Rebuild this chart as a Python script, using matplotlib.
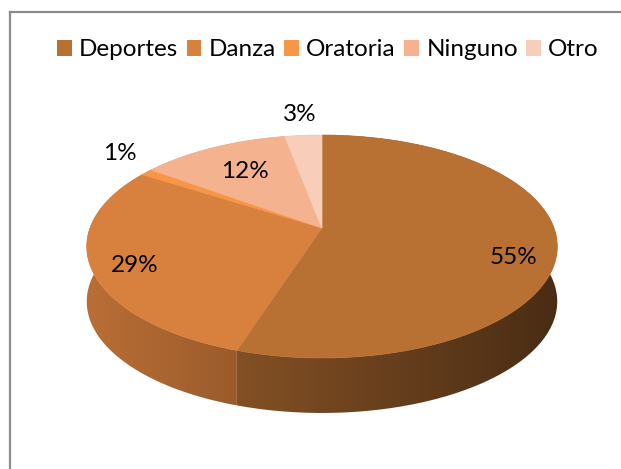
import matplotlib.pyplot as plt
import numpy as np
from matplotlib.patches import Polygon, Rectangle
from matplotlib.lines import Line2D

# data
labels = ["Deportes", "Danza", "Oratoria", "Ninguno", "Otro"]
values = [55, 29, 1, 12, 3]
colors = ["#B87033", "#D8803E", "#F79646", "#F4B38E", "#F8CDB9"]
label_r = [0.82, 0.82, 1.17, 0.68, 1.25]
label_dy = [15, 6, -10, 0, -2]

# pie geometry in pixels (3d look with a bit of perspective)
cx, cy = 322, 228
A, B = 232, 108.4
p = 0.166
depth = 55


def proj(theta, r=1.0):
    u = r * np.sin(theta)
    v = -r * np.cos(theta)
    den = 1 - p * v
    return cx + A * u / den, cy + B * v / den


def shade(x):
    return np.clip(0.86 - 0.46 * (x - 87) / 470, 0.3, 1)


plt.rcParams['font.family'] = ['Lato', 'DejaVu Sans']
fig = plt.figure(figsize=(6.21, 4.69), dpi=100)
ax = fig.add_axes([0, 0, 1, 1])
ax.set_xlim(0, 621)
ax.set_ylim(469, 0)
ax.axis('off')

# chart border (clipped at right / bottom)
ax.add_line(Line2D([10, 10], [12, 469], color="#8c8c8c", lw=1.6))
ax.add_line(Line2D([10, 621], [12, 12], color="#8c8c8c", lw=1.6))

total = float(sum(values))
edges = np.concatenate([[0], np.cumsum(values)]) / total * 2 * np.pi

# side walls
gx = np.linspace(80, 565, 300)
for i in range(len(values)):
    t = np.linspace(edges[i], edges[i + 1], 80)
    xs, ys = proj(t)
    pts = np.column_stack([np.r_[xs, xs[::-1]], np.r_[ys, ys[::-1] + depth]])
    poly = Polygon(pts, closed=True, facecolor='none', edgecolor='none')
    ax.add_patch(poly)
    base = np.array(plt.matplotlib.colors.to_rgb(colors[i]))
    img = shade(gx)[None, :, None] * base[None, None, :]
    im = ax.imshow(img, extent=[80, 565, 430, 120], aspect='auto',
                   interpolation='bilinear', zorder=1)
    im.set_clip_path(poly)

# top faces
for i in range(len(values)):
    t = np.linspace(edges[i], edges[i + 1], 120)
    xs, ys = proj(t)
    pts = np.column_stack([np.r_[cx, xs], np.r_[cy, ys]])
    ax.add_patch(Polygon(pts, closed=True, facecolor=colors[i],
                         edgecolor=colors[i], lw=0.5, zorder=2))

# data labels
for i in range(len(values)):
    mid = (edges[i] + edges[i + 1]) / 2
    lx, ly = proj(mid, label_r[i])
    ax.text(lx, ly + label_dy[i], f"{values[i]}%", ha='center', va='center',
            fontsize=17.5, color='black', zorder=3)

# legend
handles = [Rectangle((0, 0), 1, 1, facecolor=c, edgecolor='none') for c in colors]
fig.legend(handles, labels, loc='center', bbox_to_anchor=(328 / 621, 1 - 50 / 469),
           ncol=5, frameon=False, fontsize=17.5, handlelength=0.6, handleheight=0.6,
           handletextpad=0.3, columnspacing=0.35, borderpad=0)

fig.savefig("out.png", dpi=100)
